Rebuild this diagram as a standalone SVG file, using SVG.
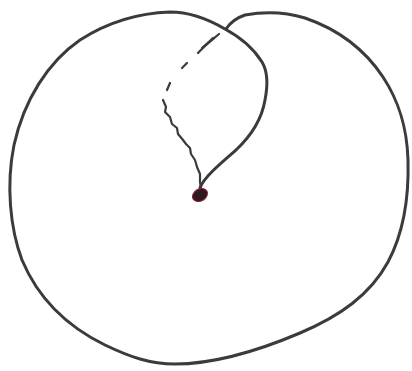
<svg xmlns="http://www.w3.org/2000/svg" width="412" height="371" viewBox="0 0 412 371">
<style>
.ln{fill:none;stroke:#3b3b3b;stroke-width:3;stroke-linecap:round;stroke-linejoin:round}
.th{stroke-width:2.2}
</style>
<rect width="412" height="371" fill="#fff"/>
<g id="loop">
<path class="ln" d="M200,188 C203,178 222,162 236,150 C252,135 262,118 265,100 C268,85 268,72 262,62 C252,46 238,36 225,29 C208,19 190,12 170,12 C140,13 108,22 80,40 C48,62 24,100 14,145 C6,185 10,228 22,260 C38,298 66,326 105,345 C130,357 150,364 175,364 C215,364 260,350 300,333 C340,316 370,295 388,262 C404,232 409,195 408,160 C407,125 398,100 383,77 C365,50 340,30 305,18 C285,12 262,12 245,15 C236,18 230,23 226,29"/>
<path class="ln th" d="M219,34 C212,40 204,46 198,53"/>
<path class="ln th" d="M213,38 C209,42 205,45 202,48"/>
<path class="ln th" d="M187,63 L182,68"/>
<path class="ln th" d="M170,83 L167,90"/>
<path class="ln th" d="M163,100 L166,107 L165,112 L170,117 L172,124 L177,128 L178,134 L183,140 L186,144 L190,148 L191,154 L195,160 L197,167 L200,174 L200,182 L201,188"/>
<ellipse cx="200" cy="195" rx="8" ry="6" transform="rotate(-30 200 195)" fill="#2e1a1e" stroke="#8c1f35" stroke-width="1"/>
</g>
</svg>
